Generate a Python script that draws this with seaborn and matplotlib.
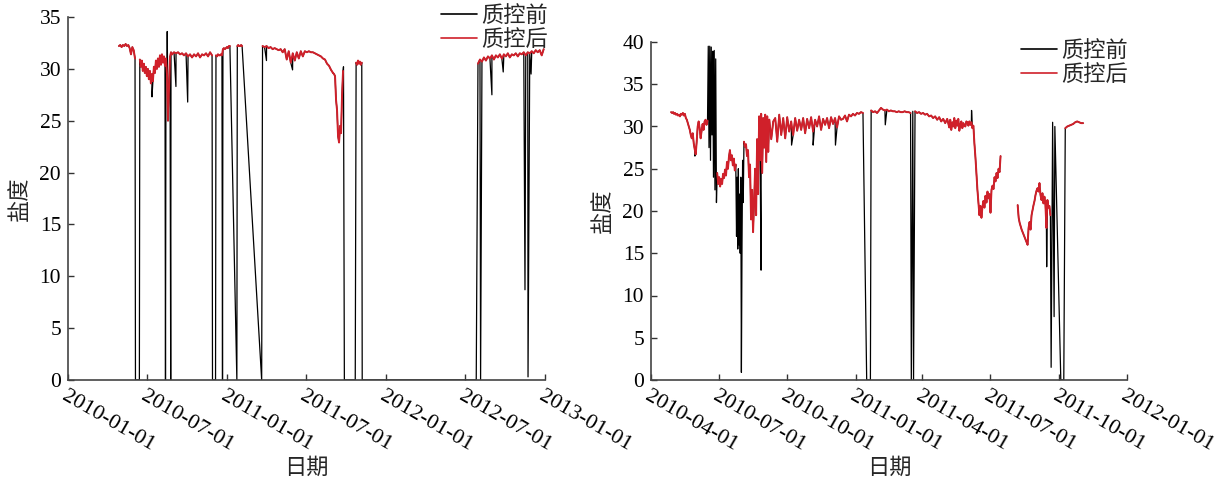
import numpy as np
import pandas as pd
import seaborn as sns
import matplotlib.pyplot as plt
from matplotlib.lines import Line2D

# ---------------- left panel (station 1) ----------------
# after QC: segments (start, end, values sampled evenly between)
l_seg1 = [32.2, 32.3, 32.1, 32.3, 32.2, 32.4, 32.2, 32.3, 32.0, 31.4, 32.1, 31.8, 31.0]
l_seg2a = [30.9, 30.2, 30.8, 29.8, 30.5, 29.6, 30.2, 29.3, 30.0, 29.0, 29.8, 28.6, 29.5,
           28.8, 30.2, 29.6, 30.8, 30.0, 31.0, 30.2, 31.3, 30.4, 31.4, 30.6, 31.2, 30.3,
           31.0, 29.5, 25.0, 28.0, 31.2, 31.6, 31.4]
l_seg2b = [31.4, 31.6, 31.5, 31.6, 31.4, 31.5, 31.3, 31.5, 31.2, 31.4, 31.1, 31.4, 31.2,
           31.5, 31.1, 31.4, 31.3, 31.5, 31.2, 31.6, 31.3]
l_seg3 = [31.3, 31.2, 31.4, 31.3, 31.3, 31.4, 31.3, 31.9, 32.0, 31.9, 32.0, 32.1, 32.0, 32.2, 32.2]
l_seg4 = [32.2, 32.3, 32.2, 32.2, 32.3, 32.2]
l_seg5a = [32.2, 32.1, 32.2, 32.0, 32.1, 31.9, 32.0, 31.9, 31.8, 31.9, 31.6, 31.9, 30.9,
           31.7, 30.6, 31.5, 30.8, 31.6, 31.0, 31.7, 31.2, 31.7, 31.6, 31.7, 31.6, 31.6,
           31.5, 31.4, 31.3, 31.2, 31.0, 30.9, 30.5, 30.3, 29.9, 29.6]
l_seg5b = [29.6, 29.5, 29.3, 27.0, 26.0, 23.5, 22.9, 24.5, 23.8, 27.5, 29.8]
l_seg6 = [30.6, 30.4, 30.8, 30.5, 30.7, 30.4, 30.6]
l_seg7 = [30.5, 30.9, 30.7, 31.1, 30.8, 31.2, 31.0, 31.3, 30.9, 31.3, 31.1, 31.4, 31.0,
          31.4, 31.2, 31.5, 31.1, 31.4, 31.3, 31.5, 31.2, 31.5, 31.4, 31.6, 31.3, 31.6,
          31.5, 31.7, 31.5, 31.8, 31.6, 31.8, 31.3, 31.9]
l_red_start = ['2010-04-28', '2010-06-15', '2010-08-28', '2010-12-07', '2011-01-25',
               '2011-03-24', '2011-09-02', '2011-10-25', '2012-07-31']
l_red_end = ['2010-06-04', '2010-08-28', '2010-11-28', '2011-01-08', '2011-02-05',
             '2011-09-02', '2011-09-25', '2011-11-07', '2012-12-29']
l_red_vals = [l_seg1, l_seg2a, l_seg2b, l_seg3, l_seg4, l_seg5a, l_seg5b, l_seg6, l_seg7]

# before QC only: spikes / zero readings
l_spike_dates = ['2010-06-05', '2010-06-14', '2010-07-13', '2010-08-13', '2010-08-17',
                 '2010-08-25', '2010-09-06', '2010-10-03', '2010-11-29', '2010-12-06',
                 '2010-12-22', '2011-01-24', '2011-03-22', '2011-04-02', '2011-06-01',
                 '2011-09-26', '2011-09-28', '2011-10-23', '2011-11-08', '2012-07-27',
                 '2012-08-06', '2012-09-01', '2012-09-27', '2012-11-16', '2012-11-23',
                 '2012-11-30']
l_spike_vals = [0, 0, 27.3, 0, 33.6, 0, 28.3, 26.8, 0, 0, 0, 0, 0, 30.8, 29.9,
                30.2, 0, 0, 0, 0, 0, 27.5, 29.7, 8.7, 0.3, 29.5]
l_breaks = []

l_ticks = ['2010-01-01', '2010-07-01', '2011-01-01', '2011-07-01', '2012-01-01',
           '2012-07-01', '2013-01-01']

# ---------------- right panel (station 2) ----------------
r_segA = [31.7, 31.6, 31.7, 31.5, 31.6, 31.4, 31.5, 31.3, 31.4, 31.2, 31.5, 31.4, 31.6,
          31.3, 31.5, 31.0, 30.8, 30.4, 30.0, 29.6, 29.0, 28.6, 29.2, 28.0, 27.3, 26.7,
          28.2, 30.0, 30.6, 29.8, 28.6, 29.5, 30.3, 29.6, 30.6, 30.8, 30.2, 30.7]
r_segB = [24.5, 23.2, 24.0, 22.9, 23.8, 23.2, 24.4, 23.9, 24.9, 24.2, 25.8, 25.0, 26.4,
          27.2, 26.0, 26.6, 25.4, 26.2, 24.8, 25.5]
r_segC1 = [28.2, 27.6, 27.9, 26.5, 27.2, 24.0, 25.5, 19.0, 22.5, 17.5, 21.0, 25.0, 19.5,
           28.5, 22.0, 31.2, 26.0, 31.5, 24.5, 31.0, 27.5, 31.4, 25.8, 31.2, 27.0, 30.8]
r_segC2 = [30.8, 28.5, 30.6, 31.0, 28.2, 31.4, 29.0, 31.0, 28.6, 31.1, 29.4, 30.6, 29.0,
           31.0, 29.5, 30.8, 29.6, 31.0, 29.2, 30.9, 29.8, 31.1, 29.4, 30.8, 30.0, 31.2,
           29.6, 30.9, 30.2, 31.0, 29.8, 31.1, 30.3, 31.0, 29.9, 31.2, 30.8, 30.9, 31.3,
           30.6, 31.4, 31.2, 31.5, 31.3, 31.6, 31.5, 31.7, 31.6]
r_segD = [31.9, 31.7, 31.8, 31.6, 31.9, 32.2, 32.0, 31.9, 32.0, 31.8, 31.9, 31.8, 31.8,
          31.7, 31.8, 31.7, 31.7, 31.8, 31.7, 31.7, 31.6]
r_segE1 = [31.8, 31.6, 31.7, 31.5, 31.6, 31.4, 31.5, 31.2, 31.3, 31.0, 31.2, 30.8, 31.1,
           30.6, 30.9, 30.4, 30.9, 29.9]
r_segE2 = [29.9, 30.8, 29.6, 30.5, 30.0, 31.0, 29.8, 30.7, 30.1, 30.9, 29.5, 30.2, 30.6,
           29.8, 30.4, 30.1, 30.0, 30.6, 30.5, 30.1, 30.6, 30.2, 30.5, 29.8, 30.1, 28.0,
           26.4, 24.5, 22.5, 21.0, 19.5, 20.6, 19.2, 20.5, 21.2, 20.4, 21.8, 21.0, 22.3,
           21.5, 22.0, 19.8, 22.5, 23.0, 22.6, 24.0, 23.5, 24.5, 23.9, 25.0, 24.6, 26.5]
r_segF = [20.7, 19.2, 18.6, 18.2, 17.8, 17.5, 17.2, 16.9, 16.6, 16.3, 16.0, 18.0, 18.7,
          17.8, 19.5, 20.1, 20.7, 21.2, 21.9, 22.4, 22.7, 22.3, 23.3, 21.9, 21.3, 22.1,
          20.9, 21.7, 20.7, 18.0, 21.3, 20.4, 20.6, 19.5]
r_segG = [29.8, 30.0, 30.1, 30.2, 30.3, 30.5, 30.6, 30.5, 30.4, 30.4]
r_red_start = ['2010-04-28', '2010-06-29', '2010-08-04', '2010-09-07', '2011-01-22',
               '2011-03-22', '2011-05-07', '2011-08-07', '2011-10-10']
r_red_end = ['2010-06-16', '2010-07-24', '2010-09-07', '2011-01-11', '2011-03-16',
             '2011-05-07', '2011-07-15', '2011-09-20', '2011-11-03']
r_red_vals = [r_segA, r_segB, r_segC1, r_segC2, r_segD, r_segE1, r_segE2, r_segF, r_segG]

# before QC only: noisy blocks removed by QC
r_blkA = [39.5, 27.5, 39.5, 26.0, 39.4, 29.0, 38.9, 24.0, 39.0, 22.5, 38.0, 21.0]
r_blkB = [17.0, 24.0, 15.5, 25.0, 16.0, 22.0, 15.0, 24.0, 0.9, 16.0, 26.0, 21.0]
r_blk_start = ['2010-06-17', '2010-07-25']
r_blk_end = ['2010-06-28', '2010-08-03']
r_blk_vals = [r_blkA, r_blkB]
r_spike_dates = ['2010-05-30', '2010-08-27', '2010-10-07', '2010-11-05', '2010-12-05',
                 '2011-01-16', '2011-01-21', '2011-02-10', '2011-03-17', '2011-03-19',
                 '2011-03-20', '2011-06-06', '2011-09-15', '2011-09-21', '2011-09-23',
                 '2011-09-25', '2011-09-26', '2011-10-04', '2011-10-08']
r_spike_vals = [26.5, 13.0, 27.8, 27.8, 27.8, 0, 0, 30.2, 0, 31.8, 0, 31.9, 13.4,
                1.5, 30.5, 7.5, 30.0, 0, 0]
r_breaks = ['2011-07-26']

r_ticks = ['2010-04-01', '2010-07-01', '2010-10-01', '2011-01-01', '2011-04-01',
           '2011-07-01', '2011-10-01', '2012-01-01']

legend_labels = ['质控前', '质控后']
RED = '#d0202a'


def build(starts, ends, vals):
    parts = []
    for i, (s, e, v) in enumerate(zip(starts, ends, vals)):
        d = pd.date_range(s, e, periods=len(v))
        parts.append(pd.DataFrame({'date': d, 'sal': v, 'piece': i}))
    return pd.concat(parts, ignore_index=True)


def panel(ax, red_s, red_e, red_v, sp_d, sp_v, breaks, ticks, ylim,
          blk_s=(), blk_e=(), blk_v=()):
    red = build(red_s, red_e, red_v)
    extra = [pd.DataFrame({'date': pd.to_datetime(sp_d), 'sal': sp_v})]
    if len(blk_v):
        extra.append(build(blk_s, blk_e, blk_v)[['date', 'sal']])
    black = pd.concat([red[['date', 'sal']]] + extra, ignore_index=True)
    black = black.sort_values('date', kind='stable').reset_index(drop=True)
    black['piece'] = np.searchsorted(pd.to_datetime(breaks).values, black['date'].values)

    sns.lineplot(data=black, x='date', y='sal', units='piece', estimator=None,
                 color='black', lw=0.9, sort=False, ax=ax)
    sns.lineplot(data=red, x='date', y='sal', units='piece', estimator=None,
                 color=RED, lw=1.4, sort=False, ax=ax)

    tk = pd.to_datetime(ticks)
    ax.set_xlim(tk[0], tk[-1])
    ax.set_ylim(*ylim)
    ax.set_xticks(tk)
    ax.set_xticklabels(ticks, rotation=-30, ha='left', va='top', rotation_mode='anchor',
                       fontsize=16)
    ax.set_yticks(np.arange(0, ylim[1] + 1, 5))
    ax.tick_params(direction='in', length=4, width=1, colors='#333333',
                   labelcolor='black', pad=5)
    ax.tick_params(axis='y', labelsize=15.5)
    sns.despine(ax=ax)
    for sp in ['left', 'bottom']:
        ax.spines[sp].set_color('#444444')
        ax.spines[sp].set_linewidth(1.2)
    ax.set_xlabel('日期', fontsize=16, labelpad=2)
    ax.set_ylabel('盐度', fontsize=16, labelpad=6)


sns.set_theme(style='ticks')
plt.rcParams['font.family'] = ['Liberation Serif', 'Noto Sans CJK SC']
plt.rcParams['axes.unicode_minus'] = False

fig = plt.figure(figsize=(12.24, 4.8), dpi=100)
ax1 = fig.add_axes([68 / 1224, 100 / 480, 477 / 1224, 363 / 480])
ax2 = fig.add_axes([651 / 1224, 100 / 480, 476 / 1224, 338 / 480])

panel(ax1, l_red_start, l_red_end, l_red_vals, l_spike_dates, l_spike_vals,
      l_breaks, l_ticks, (0, 35))
panel(ax2, r_red_start, r_red_end, r_red_vals, r_spike_dates, r_spike_vals,
      r_breaks, r_ticks, (0, 40), r_blk_start, r_blk_end, r_blk_vals)

handles = [Line2D([], [], color='black', lw=1.2), Line2D([], [], color=RED, lw=1.2)]
for anchor in [(548 / 1224, 1 - 6 / 480), (1128 / 1224, 1 - 41 / 480)]:
    fig.legend(handles, legend_labels, loc='upper right', bbox_to_anchor=anchor,
               frameon=False, fontsize=16, handlelength=1.6, handletextpad=0.2,
               labelspacing=0.12, borderpad=0, borderaxespad=0)

fig.savefig('out.png', dpi=100)
